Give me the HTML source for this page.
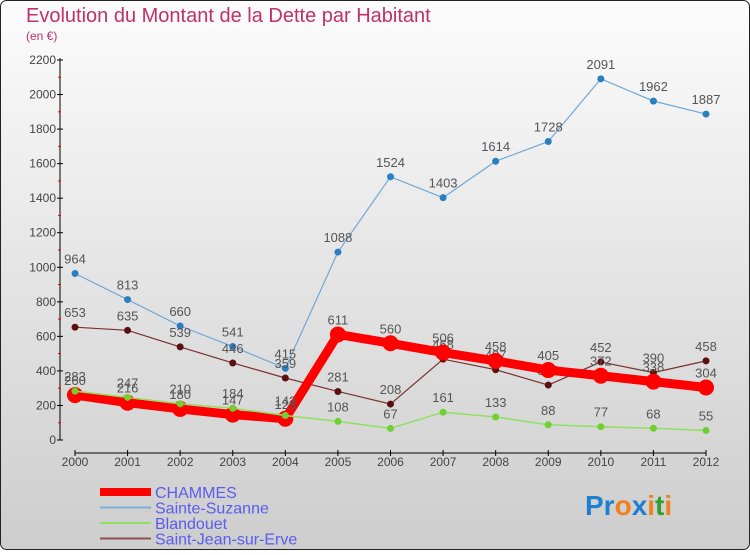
<!DOCTYPE html>
<html><head><meta charset="utf-8"><style>
body{margin:0;width:750px;height:550px;overflow:hidden;font-family:"Liberation Sans",sans-serif}
</style></head><body>
<svg id="c" width="750" height="550" xmlns="http://www.w3.org/2000/svg">
<defs><linearGradient id="bg" x1="0" y1="0" x2="0" y2="1"><stop offset="0" stop-color="#fcfcfc"/><stop offset="1" stop-color="#cdcdcd"/></linearGradient></defs>
<rect x="0.5" y="0.5" width="749" height="549" rx="6" fill="url(#bg)" stroke="#222"/>
<text x="26" y="22" font-size="20" fill="#c0306a" font-weight="300">Evolution du Montant de la Dette par Habitant</text>
<text x="26" y="40" font-size="12" fill="#c0306a">(en €)</text>
<g id="axes"></g><g id="series"></g><g id="legend"></g>
<text x="585" y="515" font-size="28" font-weight="bold"><tspan fill="#1e7fd0">Pr</tspan><tspan fill="#f08020">o</tspan><tspan fill="#1e7fd0">x</tspan><tspan fill="#f08020">i</tspan><tspan fill="#30a030">t</tspan><tspan fill="#f08020">i</tspan></text>
</svg>
<script>
const years=[2000,2001,2002,2003,2004,2005,2006,2007,2008,2009,2010,2011,2012];
const yTicks=[0,200,400,600,800,1000,1200,1400,1600,1800,2000,2200];
const chammes=[260,216,180,147,123,611,560,506,458,405,372,338,304];
const suzanne=[964,813,660,541,415,1088,1524,1403,1614,1728,2091,1962,1887];
const blandouet=[283,247,210,184,142,108,67,161,133,88,77,68,55];
const stjean=[653,635,539,446,359,281,208,468,407,318,452,390,458];
const names=["CHAMMES","Sainte-Suzanne","Blandouet","Saint-Jean-sur-Erve"];
const NS="http://www.w3.org/2000/svg";
const X=i=>75+i*(706-75)/(years.length-1);
const Y=v=>440-v*(380/2200);
function mk(tag,attrs,parent,txt){const e=document.createElementNS(NS,tag);for(const k in attrs)e.setAttribute(k,attrs[k]);if(txt!==undefined)e.textContent=txt;parent.appendChild(e);return e;}
const ax=document.getElementById('axes');
let e=mk('line',{x1:60,y1:58,x2:60,y2:440,stroke:'#000'},ax);


yTicks.forEach((t,i)=>{
 mk('line',{x1:57,y1:Y(t),x2:63,y2:Y(t),stroke:'#000'},ax);
 if(i<yTicks.length-1)mk('line',{x1:58,y1:Y(t+100),x2:61,y2:Y(t+100),stroke:'#e00'},ax);
 const l=mk('text',{x:56,y:Y(t)+4,'font-size':12,'text-anchor':'end',fill:'#444'},ax,t);
 
 
});
e=mk('line',{x1:75,y1:453,x2:706,y2:453,stroke:'#000'},ax);


years.forEach((y,i)=>{
 mk('line',{x1:X(i),y1:450,x2:X(i),y2:456,stroke:'#000'},ax);
 const l=mk('text',{x:X(i),y:466,'font-size':12,'text-anchor':'middle',fill:'#444'},ax,y);
 
 
});
const sg=document.getElementById('series');
function draw(data,color,w,r,dot,name){
 const g=mk('g',{},sg);
 
 
 mk('polyline',{points:data.map((v,i)=>X(i)+','+Y(v)).join(' '),fill:'none',stroke:color,'stroke-width':w,'stroke-linejoin':'round'},g);
 data.forEach((v,i)=>{
  const c=mk('circle',{cx:X(i),cy:Y(v),r:r,fill:dot},g);
  
  
  mk('text',{x:X(i),y:Y(v)-10,'font-size':13,'text-anchor':'middle',fill:'#555'},g,v);
 });
}
draw(suzanne,'#6fa8d8',1.2,3.5,'#2a7fc0','sainte-suzanne');
draw(stjean,'#7a3030',1.2,3.5,'#5a1010','saint-jean');
draw(chammes,'#f00',9,8,'#f00','chammes');
draw(blandouet,'#90e060',1.5,3.5,'#70d030','blandouet');
const lg=document.getElementById('legend');
const lc=['#f00','#7ab0d8','#90e060','#905050'],lw=[8,2,2,2];
names.forEach((n,i)=>{
 const y=492+i*15.5;
 mk('line',{x1:100,y1:y,x2:151,y2:y,stroke:lc[i],'stroke-width':lw[i]},lg);
 const t=mk('text',{x:155,y:y+6,'font-size':16,fill:'#5b5bf0'},lg,n);
 
 
});
</script>
</body></html>
